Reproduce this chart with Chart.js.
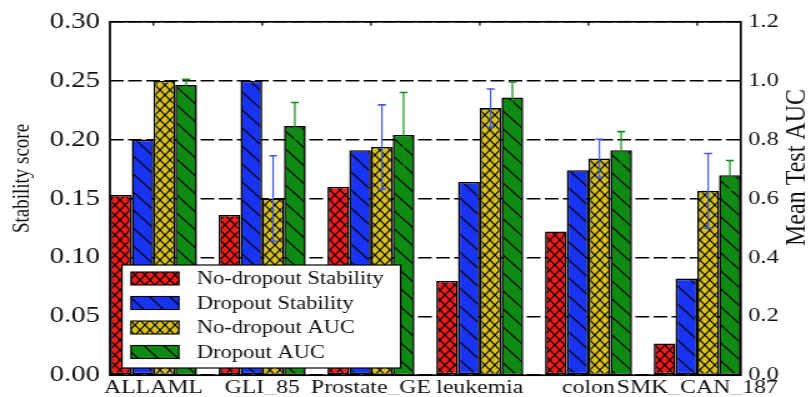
<!DOCTYPE html>
<html>
<head>
<meta charset="utf-8">
<script src="https://cdn.jsdelivr.net/npm/chart.js@4.4.0/dist/chart.umd.min.js"></script>
<style>
  html, body { margin: 0; padding: 0; background: #fff; overflow: hidden; }
  /* the reference figure is stretched sideways, so the chart is drawn narrower and widened */
  #wrap { width: 649px; height: 397px; transform: scaleX(1.2496); transform-origin: 0 0; }
</style>
</head>
<body>
<div id="wrap"><canvas id="stabilityChart" width="649" height="397"></canvas></div>
<script>
const categories = ['ALLAML', 'GLI_85', 'Prostate_GE', 'leukemia', 'colon', 'SMK_CAN_187'];

// stability scores (left axis)
const noDropoutStability = [0.153, 0.136, 0.160, 0.080, 0.122, 0.027];
const dropoutStability = [0.200, 0.250, 0.191, 0.164, 0.174, 0.082];

// mean test AUC (right axis) with error bars
const noDropoutAuc = [1.000, 0.600, 0.775, 0.907, 0.736, 0.626];
const noDropoutAucErr = [0.000, 0.145, 0.143, 0.065, 0.065, 0.127];
const dropoutAuc = [0.985, 0.846, 0.816, 0.943, 0.764, 0.679];
const dropoutAucErr = [0.020, 0.080, 0.144, 0.053, 0.063, 0.050];

const seriesLabels = ['No-dropout Stability', 'Dropout Stability', 'No-dropout AUC', 'Dropout AUC'];

const canvas = document.getElementById('stabilityChart');
const ctx = canvas.getContext('2d');
const FONT = "'Liberation Serif', 'Times New Roman', serif";
const TEXT = '#111';

function makeHatch(color, w, h, cross) {
    const tile = document.createElement('canvas');
    tile.width = w;
    tile.height = h;
    const g = tile.getContext('2d');
    g.fillStyle = color;
    g.fillRect(0, 0, w, h);
    g.strokeStyle = 'rgba(0,0,0,0.9)';
    g.lineWidth = 1.25;
    for (const dx of [-w, 0, w]) {
        g.beginPath();
        g.moveTo(dx, 0);
        g.lineTo(dx + w, h);
        g.stroke();
        if (cross) {
            g.beginPath();
            g.moveTo(dx + w, 0);
            g.lineTo(dx, h);
            g.stroke();
        }
    }
    return ctx.createPattern(tile, 'repeat');
}

const fills = [
    makeHatch('#f41c1c', 8, 10, true),   // xx
    makeHatch('#1834f2', 16, 18, false), // \\
    makeHatch('#d8c21a', 8, 10, true),   // xx
    makeHatch('#0f8a12', 16, 18, false)  // \\
];

const toPoints = values => values.map((v, i) => ({ x: i, y: v }));

// error bars on the AUC bars
const errorBars = {
    id: 'errorBars',
    afterDatasetsDraw(chart) {
        const c = chart.ctx;
        const yScale = chart.scales.y1;
        const sets = [[2, noDropoutAuc, noDropoutAucErr, '#3d5ae6'], [3, dropoutAuc, dropoutAucErr, '#178c17']];
        c.save();
        sets.forEach(([di, values, errs, color]) => {
            const meta = chart.getDatasetMeta(di);
            meta.data.forEach((bar, i) => {
                if (!errs[i]) return;
                const top = yScale.getPixelForValue(values[i] + errs[i]);
                const bot = yScale.getPixelForValue(values[i] - errs[i]);
                c.strokeStyle = color;
                c.lineWidth = 1.2;
                c.beginPath();
                c.moveTo(bar.x, top);
                c.lineTo(bar.x, bot);
                c.stroke();
                c.lineWidth = 1.6;
                c.beginPath();
                c.moveTo(bar.x - 3.2, top);
                c.lineTo(bar.x + 3.2, top);
                c.moveTo(bar.x - 3.2, bot);
                c.lineTo(bar.x + 3.2, bot);
                c.stroke();
            });
        });
        c.restore();
    }
};

// frame, top ticks, axis titles and legend
const decorations = {
    id: 'decorations',
    afterDraw(chart) {
        const c = chart.ctx;
        const area = chart.chartArea;
        const xScale = chart.scales.x;
        c.save();

        c.strokeStyle = '#000';
        c.lineWidth = 1.7;
        c.strokeRect(area.left, area.top, area.right - area.left, area.bottom - area.top);

        c.lineWidth = 1.2;
        categories.forEach((cat, i) => {
            const x = xScale.getPixelForValue(i);
            c.beginPath();
            c.moveTo(x, area.top);
            c.lineTo(x, area.top + 4);
            c.stroke();
        });

        c.fillStyle = TEXT;
        c.textAlign = 'center';
        c.textBaseline = 'middle';
        c.save();
        c.translate(17.6, 178.5);
        c.rotate(-Math.PI / 2);
        c.font = '19px ' + FONT;
        c.fillText('Stability score', 0, 0);
        c.restore();
        c.save();
        c.translate(637.6, 167.5);
        c.rotate(-Math.PI / 2);
        c.font = '24px ' + FONT;
        c.fillText('Mean Test AUC', 0, 0);
        c.restore();

        // legend
        const lx = area.left + 9.6, ly = 265, lw = 223, lh = 103;
        c.fillStyle = '#fff';
        c.fillRect(lx, ly, lw, lh);
        c.strokeStyle = '#000';
        c.lineWidth = 1.2;
        c.strokeRect(lx, ly, lw, lh);
        c.font = '18px ' + FONT;
        c.textAlign = 'left';
        seriesLabels.forEach((label, i) => {
            const cy = ly + 13.5 + i * 24.5;
            c.fillStyle = fills[i];
            c.fillRect(lx + 7.2, cy - 6.5, 38.4, 13);
            c.strokeStyle = '#000';
            c.lineWidth = 1.1;
            c.strokeRect(lx + 7.2, cy - 6.5, 38.4, 13);
            c.fillStyle = TEXT;
            c.fillText(label, lx + 60, cy + 1);
        });

        c.restore();
    }
};

new Chart(ctx, {
    type: 'bar',
    data: {
        datasets: [
            { label: seriesLabels[0], data: toPoints(noDropoutStability), backgroundColor: fills[0], yAxisID: 'y' },
            { label: seriesLabels[1], data: toPoints(dropoutStability), backgroundColor: fills[1], yAxisID: 'y' },
            { label: seriesLabels[2], data: toPoints(noDropoutAuc), backgroundColor: fills[2], yAxisID: 'y1' },
            { label: seriesLabels[3], data: toPoints(dropoutAuc), backgroundColor: fills[3], yAxisID: 'y1' }
        ]
    },
    options: {
        responsive: false,
        animation: false,
        devicePixelRatio: 1,
        layout: { padding: { top: 19, left: 0, right: 0, bottom: 0 } },
        datasets: {
            bar: {
                borderColor: '#000',
                borderWidth: 1.6,
                borderSkipped: false,
                categoryPercentage: 0.8,
                barPercentage: 1.0
            }
        },
        plugins: {
            legend: { display: false },
            tooltip: { enabled: false }
        },
        scales: {
            x: {
                type: 'linear',
                offset: false,
                min: -0.4,
                max: 5.4,
                grid: { display: false, drawTicks: false },
                border: { display: false },
                afterBuildTicks: scale => { scale.ticks = categories.map((c, i) => ({ value: i })); },
                afterFit: scale => { scale.height = 19; },
                ticks: {
                    autoSkip: false,
                    maxRotation: 0,
                    minRotation: 0,
                    padding: 1,
                    color: TEXT,
                    font: { family: FONT, size: 19 },
                    callback: (value, index) => categories[index]
                }
            },
            y: {
                position: 'left',
                min: 0,
                max: 0.30,
                z: 1,
                afterFit: scale => { scale.width = 88; },
                grid: { color: '#000', lineWidth: 1.6, drawTicks: false },
                border: { display: false, dash: [11, 3.5] },
                ticks: {
                    stepSize: 0.05,
                    padding: 8,
                    color: TEXT,
                    font: { family: FONT, size: 23 },
                    callback: v => v.toFixed(2)
                }
            },
            y1: {
                position: 'right',
                min: 0,
                max: 1.2,
                afterFit: scale => { scale.width = 56.2; },
                grid: { display: false, drawTicks: false },
                border: { display: false },
                ticks: {
                    stepSize: 0.2,
                    padding: 6,
                    color: TEXT,
                    font: { family: FONT, size: 19.5 },
                    callback: v => v.toFixed(1)
                }
            }
        }
    },
    plugins: [errorBars, decorations]
});
</script>
</body>
</html>
